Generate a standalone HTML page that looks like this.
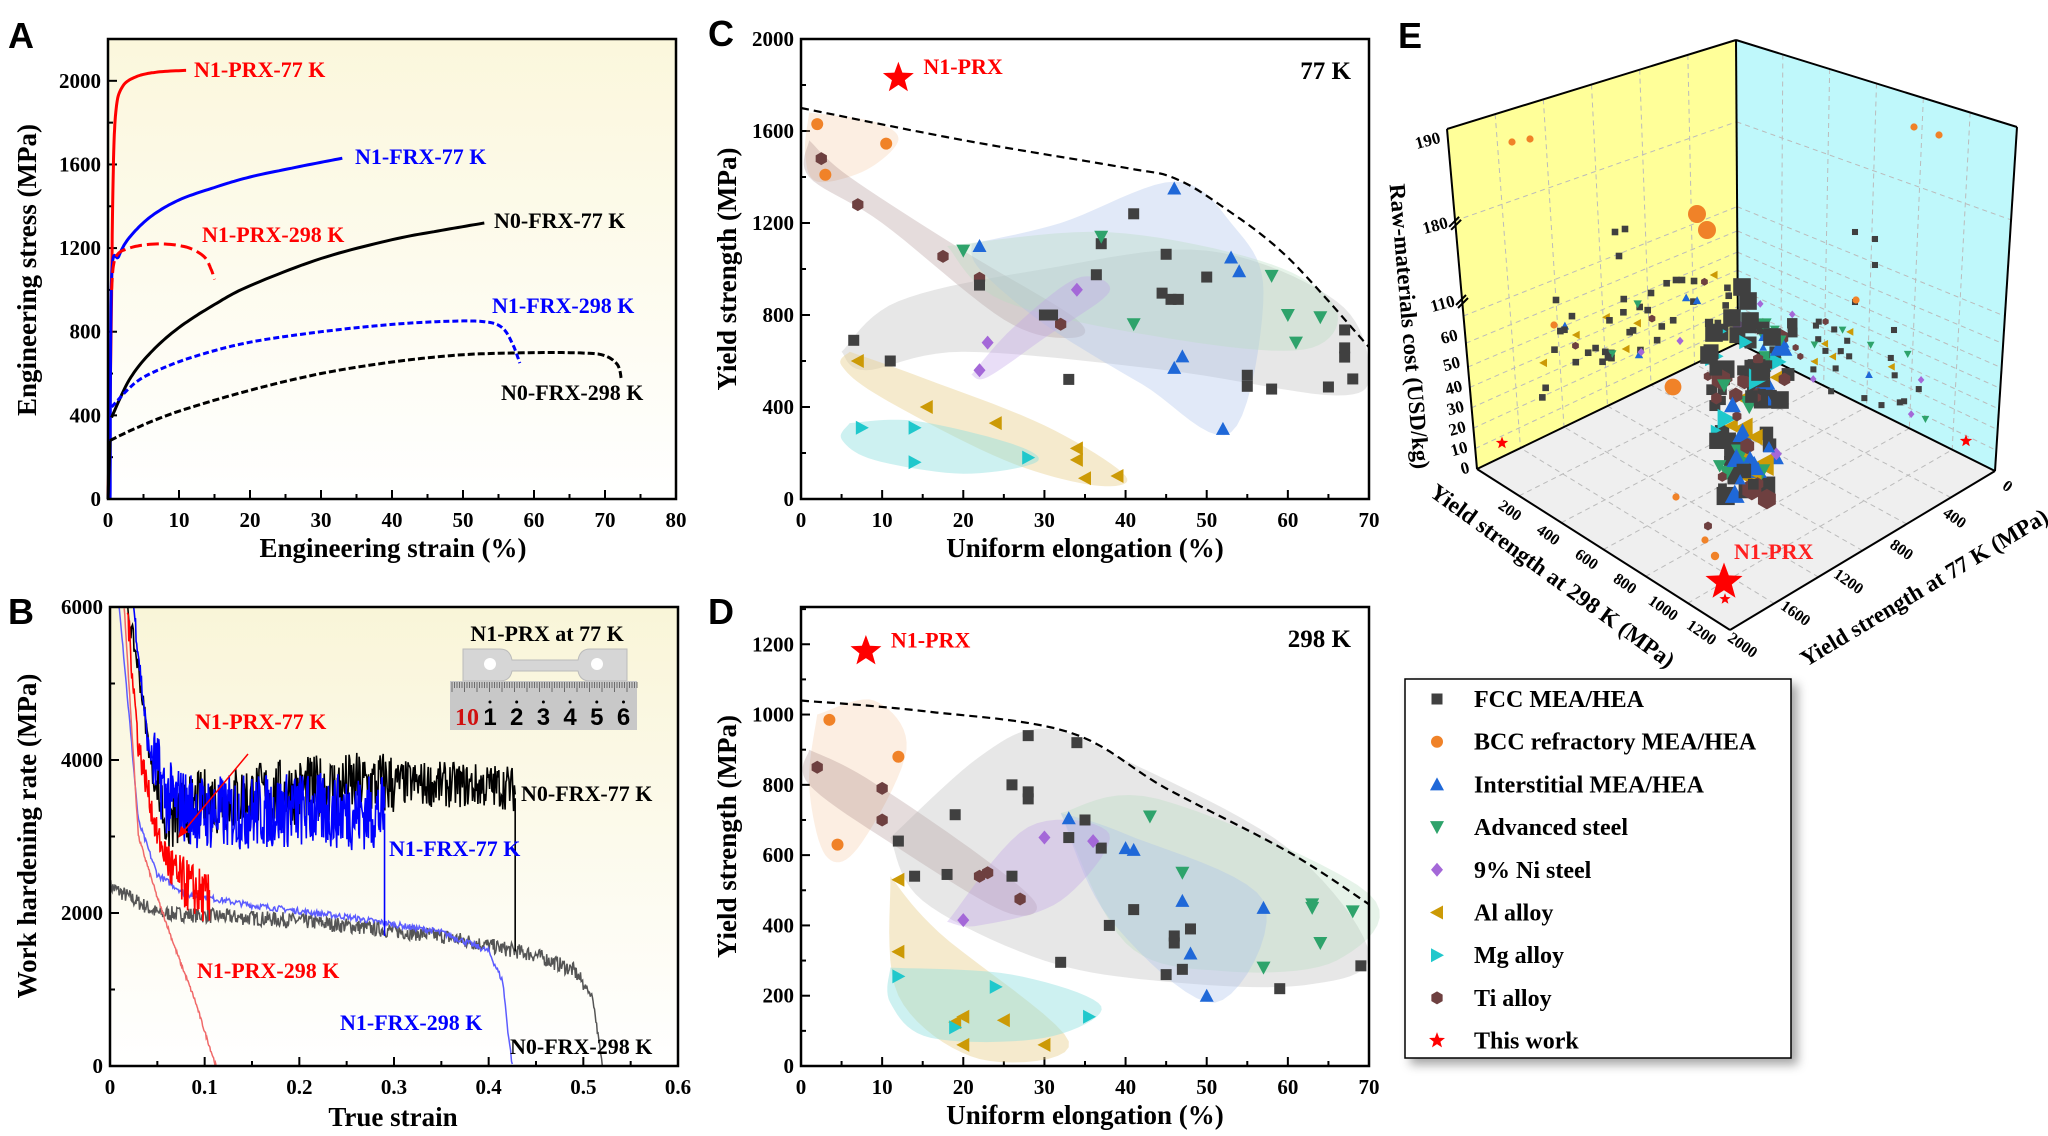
<!DOCTYPE html>
<html><head><meta charset="utf-8"><style>
html,body{margin:0;padding:0;background:#fff}
svg{display:block}
text{font-family:"Liberation Serif",serif;font-weight:bold}
</style></head><body>
<svg id="s" width="2048" height="1136" viewBox="0 0 2048 1136" xmlns="http://www.w3.org/2000/svg">
<defs>
<linearGradient id="gy" x1="0" y1="0" x2="0" y2="1"><stop offset="0" stop-color="#fbf7dc"/><stop offset="1" stop-color="#ffffff"/></linearGradient>
<linearGradient id="gy2" x1="0" y1="0" x2="0" y2="1"><stop offset="0" stop-color="#f9f5d8"/><stop offset="1" stop-color="#ffffff"/></linearGradient>
<filter id="sh" x="-5%" y="-5%" width="115%" height="115%"><feDropShadow dx="6" dy="6" stdDeviation="5" flood-color="#000" flood-opacity="0.35"/></filter>
</defs>
</svg>
<script>
const S=document.getElementById('s');const NS='http://www.w3.org/2000/svg';
function E(t,a,p){const e=document.createElementNS(NS,t);for(const k in a)e.setAttribute(k,a[k]);(p||S).appendChild(e);return e;}
function T(x,y,s,o){const e=E('text',Object.assign({x:x,y:y},o||{}));e.textContent=s;return e;}
function path(pts,X,Y){return pts.map((p,i)=>(i?'L':'M')+X(p[0]).toFixed(1)+' '+Y(p[1]).toFixed(1)).join(' ');}
function smooth(pts,n){const out=[];for(let i=0;i<pts.length-1;i++){const p0=pts[Math.max(0,i-1)],p1=pts[i],p2=pts[i+1],p3=pts[Math.min(pts.length-1,i+2)];for(let k=0;k<n;k++){const t=k/n,t2=t*t,t3=t2*t;const f=(a,b,c,d)=>0.5*((2*b)+(-a+c)*t+(2*a-5*b+4*c-d)*t2+(-a+3*b-3*c+d)*t3);out.push([f(p0[0],p1[0],p2[0],p3[0]),f(p0[1],p1[1],p2[1],p3[1])]);}}out.push(pts[pts.length-1]);return out;}
let seed=7;function rnd(){seed=(seed*16807)%2147483647;return seed/2147483647;}

function axes(L,Tp,R,B,X,Y,xt,yt,xminor,yminor,bg){
  if(bg)E('rect',{x:L,y:Tp,width:R-L,height:B-Tp,fill:bg});
  xt.forEach(v=>{const x=X(v);E('line',{x1:x,y1:B,x2:x,y2:B-9,stroke:'#000','stroke-width':2});T(x,B+28,String(v),{'font-size':21,'text-anchor':'middle'});});
  xminor.forEach(v=>{const x=X(v);E('line',{x1:x,y1:B,x2:x,y2:B-5,stroke:'#000','stroke-width':2});});
  yt.forEach(v=>{const y=Y(v);E('line',{x1:L,y1:y,x2:L+9,y2:y,stroke:'#000','stroke-width':2});T(L-7,y+7,String(v),{'font-size':21,'text-anchor':'end'});});
  yminor.forEach(v=>{const y=Y(v);E('line',{x1:L,y1:y,x2:L+5,y2:y,stroke:'#000','stroke-width':2});});
}
function box(L,Tp,R,B){E('rect',{x:L,y:Tp,width:R-L,height:B-Tp,fill:'none',stroke:'#000','stroke-width':2.5});}
function rng(a,b,s){const r=[];for(let v=a;v<=b+1e-9;v+=s)r.push(+v.toFixed(3));return r;}

// ---------- Panel A ----------
{const L=108,R=676,Tp=39,B=499;const X=v=>L+v/80*568,Y=v=>B-v/2200*460;
axes(L,Tp,R,B,X,Y,rng(0,80,10),rng(0,2000,400),rng(5,75,10),rng(200,2200,400),'url(#gy)');
const cur=(pts,c,d,w)=>E('path',{d:path(smooth(pts,12),X,Y),fill:'none',stroke:c,'stroke-width':w||3,'stroke-dasharray':d||'none'});
cur([[0,0],[0.4,700],[0.7,1500],[1.1,1850],[2,1970],[4,2020],[7,2042],[11,2050]],'#ff0000');
cur([[0.3,0],[0.5,1050],[1.5,1160],[3,1250],[6,1350],[10,1430],[15,1490],[20,1540],[27,1590],[33,1630]],'#0000ff');
cur([[0.5,1000],[1,1150],[3,1200],[7,1220],[11,1205],[13.5,1160],[14.5,1100],[15,1050]],'#ff0000','12,5');
cur([[0.5,390],[3,570],[6,700],[10,820],[15,930],[20,1020],[30,1150],[40,1240],[47,1285],[53,1320]],'#000');
cur([[0.5,440],[4,560],[8,630],[13,690],[20,750],[30,800],[40,835],[48,850],[53,848],[55.5,820],[57,740],[58,650]],'#0000ff','6,3');
cur([[0.3,280],[4,340],[10,420],[20,520],[30,600],[40,655],[50,690],[60,700],[67,698],[70,685],[71.8,640],[72.3,570]],'#000','7,3');
cur([[0,0],[0.3,280]],'#000');
box(L,Tp,R,B);
T(194,77,'N1-PRX-77 K',{'font-size':22,fill:'#ff0000'});
T(355,164,'N1-FRX-77 K',{'font-size':22,fill:'#0000ff'});
T(202,242,'N1-PRX-298 K',{'font-size':22,fill:'#ff0000'});
T(494,228,'N0-FRX-77 K',{'font-size':22,fill:'#000'});
T(492,313,'N1-FRX-298 K',{'font-size':22,fill:'#0000ff'});
T(501,400,'N0-FRX-298 K',{'font-size':22,fill:'#000'});
T(393,557,'Engineering strain (%)',{'font-size':27,'text-anchor':'middle'});
T(0,0,'Engineering stress (MPa)',{'font-size':27,'text-anchor':'middle',transform:'translate(36,270) rotate(-90)'});
}
// ---------- Panel B ----------
{const L=110,R=678,Tp=607,B=1066;const X=v=>L+v/0.6*568,Y=v=>B-Math.min(6000,v)/6000*459;
axes(L,Tp,R,B,X,Y,rng(0,0.6,0.1),[0,2000,4000,6000],rng(0.05,0.55,0.1),[1000,3000,5000],'url(#gy2)');
function noisy(base,x0,x1,amp,n,c,w){const pts=[];for(let i=0;i<=n;i++){const x=x0+(x1-x0)*i/n;let y=base(x)+(rnd()*2-1)*amp(x);pts.push([x,Math.max(0,y)]);}E('path',{d:path(pts,X,Y),fill:'none',stroke:c,'stroke-width':w||1.5});return pts;}
const interp=(P)=>x=>{for(let i=0;i<P.length-1;i++)if(x<=P[i+1][0]){const t=(x-P[i][0])/(P[i+1][0]-P[i][0]);return P[i][1]+t*(P[i+1][1]-P[i][1]);}return P[P.length-1][1];};
noisy(interp([[0,2350],[0.05,2000],[0.2,1900],[0.35,1700],[0.45,1450],[0.49,1250],[0.51,900],[0.52,0]]),0,0.52,x=>x<0.5?100:40,700,'#555555');
noisy(interp([[0.01,6000],[0.03,3200],[0.05,2500],[0.08,2250],[0.15,2100],[0.25,1950],[0.35,1750],[0.4,1500],[0.415,1100],[0.42,500],[0.425,0]]),0.008,0.425,x=>40,450,'#5c5cff');
noisy(interp([[0.015,6000],[0.03,3000],[0.05,2200],[0.07,1500],[0.09,850],[0.1,450],[0.108,150],[0.112,0]]),0.015,0.112,x=>25,150,'#f06a6a');
noisy(interp([[0.018,6000],[0.03,5200],[0.045,3800],[0.06,3200],[0.1,3450],[0.2,3600],[0.3,3700],[0.42,3650],[0.428,3600]]),0.018,0.428,x=>x<0.05?150:x<0.3?450:300,500,'#000',1.6);
E('line',{x1:X(0.428),y1:Y(3500),x2:X(0.428),y2:Y(1500),stroke:'#000','stroke-width':1.6});
noisy(interp([[0.025,6000],[0.04,4200],[0.06,3500],[0.1,3300],[0.2,3350],[0.29,3300]]),0.025,0.29,x=>x<0.045?150:500,420,'#0000ff',1.6);
E('line',{x1:X(0.29),y1:Y(3300),x2:X(0.29),y2:Y(1700),stroke:'#0000ff','stroke-width':1.6});
noisy(interp([[0.018,6000],[0.03,4200],[0.05,3000],[0.07,2450],[0.09,2300],[0.105,2150]]),0.018,0.105,x=>x<0.06?200:350,140,'#ff0000',1.6);
E('line',{x1:X(0.105),y1:Y(2300),x2:X(0.105),y2:Y(1900),stroke:'#ff0000','stroke-width':1.6});
// inset
T(547,641,'N1-PRX at 77 K',{'font-size':22,'text-anchor':'middle'});
E('path',{d:'M463 649 L500 649 Q510 649 512 660 L578 660 Q580 649 590 649 L627 649 L627 681 L590 681 Q580 681 578 671 L512 671 Q510 681 500 681 L463 681 Z',fill:'#d6d6d6',stroke:'#bbb'});
E('circle',{cx:490,cy:664,r:6,fill:'#fff'});E('circle',{cx:597,cy:664,r:6,fill:'#fff'});
E('rect',{x:450,y:681,width:187,height:49,fill:'#c8c8c8'});
for(let i=0;i<=74;i++){const x=452+i*2.5;E('line',{x1:x,y1:682,x2:x,y2:i%5?688:692,stroke:'#555','stroke-width':0.8});}
T(467,725,'10',{'font-size':24,fill:'#d01010','text-anchor':'middle'});
[1,2,3,4,5,6].forEach((n,i)=>{T(490+i*26.7,725,String(n),{'font-size':24,'text-anchor':'middle','style':'font-family:Liberation Sans'});E('circle',{cx:490+i*26.7,cy:702,r:1.5,fill:'#000'});});
box(L,Tp,R,B);
T(195,729,'N1-PRX-77 K',{'font-size':22,fill:'#ff0000'});
E('line',{x1:248,y1:754,x2:183,y2:832,stroke:'#ff0000','stroke-width':1.5});
E('path',{d:'M178 838 L181 826 L188 832 Z',fill:'#ff0000'});
T(521,801,'N0-FRX-77 K',{'font-size':22});
T(389,856,'N1-FRX-77 K',{'font-size':22,fill:'#0000ff'});
T(197,978,'N1-PRX-298 K',{'font-size':22,fill:'#ff0000'});
T(340,1030,'N1-FRX-298 K',{'font-size':22,fill:'#0000ff'});
T(510,1054,'N0-FRX-298 K',{'font-size':22});
T(393,1126,'True strain',{'font-size':27,'text-anchor':'middle'});
T(0,0,'Work hardening rate (MPa)',{'font-size':27,'text-anchor':'middle',transform:'translate(36,836) rotate(-90)'});
}
// markers
const COL={sq:'#404040',ci:'#f08228',up:'#1f68d8',dn:'#2ea36b',di:'#a468d8',lt:'#cc9a06',rt:'#20c8cc',hx:'#6e4040'};
function mk(t,x,y,s){s=s||1;const c=COL[t];
 if(t=='sq')E('rect',{x:x-5.5*s,y:y-5.5*s,width:11*s,height:11*s,fill:c});
 else if(t=='ci')E('circle',{cx:x,cy:y,r:6*s,fill:c});
 else if(t=='up')E('path',{d:`M${x} ${y-7*s} L${x+7*s} ${y+6*s} L${x-7*s} ${y+6*s}Z`,fill:c});
 else if(t=='dn')E('path',{d:`M${x} ${y+7*s} L${x+7*s} ${y-6*s} L${x-7*s} ${y-6*s}Z`,fill:c});
 else if(t=='di')E('path',{d:`M${x} ${y-7*s} L${x+6*s} ${y} L${x} ${y+7*s} L${x-6*s} ${y}Z`,fill:c});
 else if(t=='lt')E('path',{d:`M${x-7*s} ${y} L${x+6*s} ${y-7*s} L${x+6*s} ${y+7*s}Z`,fill:c});
 else if(t=='rt')E('path',{d:`M${x+7*s} ${y} L${x-6*s} ${y-7*s} L${x-6*s} ${y+7*s}Z`,fill:c});
 else if(t=='hx'){let d='';for(let i=0;i<6;i++){const a=Math.PI/6+i*Math.PI/3;d+=(i?'L':'M')+(x+6.5*s*Math.cos(a))+' '+(y+6.5*s*Math.sin(a));}E('path',{d:d+'Z',fill:c});}
 else if(t=='st'){let d='';for(let i=0;i<10;i++){const a=-Math.PI/2+i*Math.PI/5,r=i%2?6.5*s*0.42:6.5*s;d+=(i?'L':'M')+(x+r*Math.cos(a)).toFixed(1)+' '+(y+r*Math.sin(a)).toFixed(1);}E('path',{d:d+'Z',fill:'#ff0000'});}
}
function region(pts,c,X,Y,op){E('path',{d:path(smooth(pts.concat([pts[0]]),10),X,Y)+'Z',fill:c,'fill-opacity':op||0.3});}
function panelScatter(L,Tp,R,B,ymax,yt,yminor,regs,pts,dash,star,lab,tempLbl){
 const X=v=>L+v/70*568,Y=v=>B-v/ymax*(B-Tp);
 axes(L,Tp,R,B,X,Y,rng(0,70,10),yt,rng(5,65,10),yminor,null);
 regs.forEach(r=>region(r[1],r[0],X,Y,r[2]));
 E('path',{d:path(smooth(dash,10),X,Y),fill:'none',stroke:'#000','stroke-width':2.2,'stroke-dasharray':'8,5'});
 pts.forEach(p=>mk(p[0],X(p[1]),Y(p[2])));
 mk('st',X(star[0]),Y(star[1]),2.5);
 T(X(star[0])+25,Y(star[1])-4,'N1-PRX',{'font-size':22,fill:'#ff0000'});
 T(R-18,Tp+40,tempLbl,{'font-size':25,'text-anchor':'end'});
 box(L,Tp,R,B);
 T((L+R)/2,B+58,'Uniform elongation (%)',{'font-size':27,'text-anchor':'middle'});
 T(0,0,'Yield strength (MPa)',{'font-size':27,'text-anchor':'middle',transform:`translate(${L-65},${(Tp+B)/2}) rotate(-90)`});
}
// ---------- Panel C ----------
panelScatter(801,39,1369,499,2000,rng(0,2000,400),rng(200,1800,400),[
 ['#f6c8a0',[[1,1680],[9,1640],[12,1560],[8,1430],[2,1380],[0.5,1500]]],
 ['#8a6060',[[1,1560],[6,1400],[20,1080],[34,780],[33,700],[25,780],[10,1200],[1,1400]],0.22],
 ['#b0b0b0',[[5,640],[12,860],[30,1000],[50,1080],[66,860],[70,560],[66,450],[45,560],[20,640],[8,560]],0.3],
 ['#a8c0ec',[[21,1110],[32,1200],[46,1380],[53,1200],[57,900],[53,290],[42,500],[30,760],[22,1000]],0.35],
 ['#b8dcc0',[[18,1100],[38,1160],[58,1020],[66,820],[62,650],[45,700],[25,860]],0.35],
 ['#c0a0e8',[[21,540],[26,740],[34,960],[38,900],[30,700],[23,530]],0.35],
 ['#e8d090',[[6,640],[14,540],[30,320],[40,100],[36,60],[25,170],[10,440],[5,580]],0.45],
 ['#90e0e0',[[6,330],[14,340],[26,240],[29,160],[20,110],[9,170],[5,260]],0.45]
],[
 ['ci',2,1630],['ci',10.5,1545],['ci',3,1410],
 ['hx',2.5,1480],['hx',7,1280],['hx',17.5,1055],['hx',22,960],['hx',32,760],
 ['sq',6.5,690],['sq',11,600],['sq',22,930],['sq',30,800],['sq',31,800],['sq',33,520],['sq',36.4,975],['sq',41,1240],['sq',37,1110],['sq',45,1064],['sq',44.5,895],['sq',45.6,868],['sq',46.5,868],['sq',50,965],['sq',55,538],['sq',55,490],['sq',58,478],['sq',65,487],['sq',67,735],['sq',67,657],['sq',67,617],['sq',68,522],
 ['up',22,1100],['up',46,1350],['up',53,1050],['up',54,990],['up',46,570],['up',47,620],['up',52,305],
 ['dn',20,1080],['dn',37,1140],['dn',41,760],['dn',58,970],['dn',60,800],['dn',61,680],['dn',64,790],
 ['di',23,680],['di',22,560],['di',34,910],
 ['lt',7,600],['lt',15.5,400],['lt',24,330],['lt',34,220],['lt',34,170],['lt',35,90],['lt',39,100],
 ['rt',7.5,310],['rt',14,310],['rt',14,160],['rt',28,180]
],[[0,1700],[20,1560],[40,1440],[46,1395],[52,1270],[60,1050],[70,660]],[12,1830],'N1-PRX','77 K');
// ---------- Panel D ----------
panelScatter(801,607,1369,1066,1306,rng(0,1200,200),rng(100,1300,200),[
 ['#f6c8a0',[[2,1000],[9,1040],[13,900],[7,620],[3,600],[1,800]]],
 ['#8a6060',[[1,900],[8,820],[22,600],[29,460],[25,440],[12,620],[1,800]],0.22],
 ['#b0b0b0',[[11,650],[22,880],[30,960],[40,870],[60,620],[70,320],[62,230],[45,240],[30,300],[15,470]],0.3],
 ['#b8dcc0',[[32,720],[44,760],[70,490],[66,300],[52,270],[40,350]],0.35],
 ['#a8c0ec',[[32,720],[40,660],[57,470],[51,180],[38,420]],0.35],
 ['#c0a0e8',[[18,410],[28,680],[38,660],[32,470],[22,400]],0.35],
 ['#e8d090',[[11,540],[17,380],[33,70],[22,20],[12,200]],0.45],
 ['#90e0e0',[[11,280],[26,260],[37,170],[30,80],[16,80],[11,180]],0.45]
],[
 ['ci',3.5,985],['ci',4.5,630],['ci',12,880],
 ['hx',2,850],['hx',10,790],['hx',10,700],['hx',22,540],['hx',27,475],['hx',23,550],
 ['sq',12,640],['sq',14,540],['sq',18,545],['sq',19,715],['sq',26,800],['sq',28,780],['sq',28,760],['sq',28,940],['sq',34,920],['sq',35,700],['sq',33,650],['sq',37,620],['sq',38,400],['sq',41,445],['sq',32,295],['sq',45,260],['sq',46,370],['sq',46,350],['sq',47,275],['sq',48,390],['sq',59,220],['sq',69,285],['sq',26,540],
 ['up',33,705],['up',40,620],['up',41,615],['up',47,470],['up',48,320],['up',57,450],['up',50,200],
 ['dn',43,710],['dn',47,550],['dn',63,460],['dn',63,450],['dn',64,350],['dn',68,440],['dn',57,280],
 ['di',20,415],['di',30,650],['di',36,640],
 ['lt',12,530],['lt',12,325],['lt',20,140],['lt',20,60],['lt',25,130],['lt',30,60],['lt',19,125],
 ['rt',12,255],['rt',24,225],['rt',19,110],['rt',35.5,140]
],[[0,1040],[15,1010],[33,950],[45,790],[60,610],[70,460]],[8,1180],'N1-PRX','298 K');

// ---------- Panel E ----------
{
const TL=[1447,129],BL=[1477,469],TB=[1736,40],BB=[1738,343],TR=[2017,127],BR=[1995,471],FF=[1730,630];
const P=a=>a.map(p=>p.join(',')).join(' ');
E('polygon',{points:P([TL,TB,BB,BL]),fill:'#ffff99'});
E('polygon',{points:P([TB,TR,BR,BB]),fill:'#bff8fb'});
E('polygon',{points:P([BL,BB,BR,FF]),fill:'#efefef'});
const lerp=(a,b,t)=>[a[0]+(b[0]-a[0])*t,a[1]+(b[1]-a[1])*t];
const gl=(a,b)=>E('line',{x1:a[0],y1:a[1],x2:b[0],y2:b[1],stroke:'#bbb','stroke-width':1,'stroke-dasharray':'5,4'});
for(let i=1;i<6;i++){const t=i/6;gl(lerp(TL,TB,t),lerp(BL,BB,t));gl(lerp(TB,TR,t),lerp(BB,BR,t));gl(lerp(BL,FF,t),lerp(BB,BR,t));gl(lerp(FF,BR,t),lerp(BL,BB,t));}
const hs=[0.55,0.63,0.7,0.76,0.82,0.88,0.94];
hs.forEach(t=>{gl(lerp(TL,BL,t),lerp(TB,BB,t));gl(lerp(TB,BB,t),lerp(TR,BR,t));});
gl(lerp(TL,BL,0.27),lerp(TB,BB,0.27));gl(lerp(TB,BB,0.27),lerp(TR,BR,0.27));
[[TL,TB],[TB,TR],[TL,BL],[TR,BR],[TB,BB],[BL,BB],[BB,BR],[BL,FF],[FF,BR]].forEach(s=>E('line',{x1:s[0][0],y1:s[0][1],x2:s[1][0],y2:s[1][1],stroke:'#000','stroke-width':2}));
[['190',0.02],['180',0.27],['110',0.5],['60',0.6],['50',0.68],['40',0.75],['30',0.81],['20',0.87],['10',0.93],['0',0.99]].forEach(l=>{const p=lerp(TL,BL,l[1]);T(p[0]-8,p[1]+7,l[0],{'font-size':17,'text-anchor':'end',transform:`rotate(-15 ${p[0]-8} ${p[1]})`});});
[0.27,0.5].forEach(t=>{const p=lerp(TL,BL,t);E('path',{d:`M${p[0]-6} ${p[1]+6} L${p[0]+4} ${p[1]-4} M${p[0]-4} ${p[1]+9} L${p[0]+6} ${p[1]-1}`,stroke:'#000','stroke-width':2});});
['200','400','600','800','1000','1200'].forEach((s,i)=>{const p=lerp(BL,FF,(i+1)/6.6);T(p[0]-6,p[1]+22,s,{'font-size':16,'text-anchor':'middle',transform:`rotate(35 ${p[0]-6} ${p[1]+18})`});});
['0','400','800','1200','1600','2000'].forEach((s,i)=>{const p=lerp(BR,FF,i/5);T(p[0]+12,p[1]+20,s,{'font-size':16,'text-anchor':'middle',transform:`rotate(35 ${p[0]+12} ${p[1]+16})`});});
T(0,0,'Raw-materials cost (USD/kg)',{'font-size':23,'text-anchor':'middle',transform:'translate(1402,327) rotate(85)'});
T(0,0,'Yield strength at 298 K (MPa)',{'font-size':23,'text-anchor':'middle',transform:'translate(1548,582) rotate(36)'});
T(0,0,'Yield strength at 77 K (MPa)',{'font-size':23,'text-anchor':'middle',transform:'translate(1928,594) rotate(-31)'});
seed=42;
const types=['sq','sq','sq','sq','sq','up','dn','hx','di','lt'];
// left wall
for(let i=0;i<50;i++){const t=types[Math.floor(rnd()*types.length)];const x=1540+rnd()*190;const y=400-(x-1540)*0.38-rnd()*75;mk(t,x,y,0.6);}
[[1615,232],[1625,229],[1619,256],[1651,293],[1676,280],[1682,280],[1556,300]].forEach(p=>mk('sq',p[0],p[1],0.6));
// right wall
for(let i=0;i<42;i++){const t=types[Math.floor(rnd()*types.length)];const x=1756+rnd()*170;const y=300+(x-1756)*0.3+rnd()*70;mk(t,x,y,0.55);}
[[1855,232],[1875,239],[1875,265],[1855,302],[1894,330]].forEach(p=>mk('sq',p[0],p[1],0.55));
mk('ci',1512,142,0.6);mk('ci',1530,139,0.6);mk('ci',1914,127,0.6);mk('ci',1939,135,0.6);
mk('ci',1697,214,1.5);mk('ci',1707,230,1.5);mk('ci',1554,325,0.6);mk('ci',1856,300,0.6);mk('ci',1673,387,1.4);
mk('st',1502,443,1);mk('st',1966,441,1);
// central column
const ctypes=['sq','sq','sq','sq','sq','sq','up','up','dn','dn','hx','hx','di','lt','rt'];
for(let i=0;i<120;i++){const t=ctypes[Math.floor(rnd()*ctypes.length)];const yy=rnd();const y=320+yy*180;const w=95-yy*45;const x=1700+(95-w)/2+rnd()*w;mk(t,x,y,0.7+rnd()*1.0);}
[[1742,287],[1748,301],[1732,318],[1714,333],[1709,355],[1750,321],[1772,337],[1760,372],[1780,400]].forEach(p=>mk('sq',p[0],p[1],1.6));
mk('ci',1676,497,0.6);mk('hx',1708,526,0.7);mk('ci',1705,540,0.6);mk('ci',1715,556,0.7);
mk('st',1724,582,3);mk('st',1725,599,0.9);
T(1734,559,'N1-PRX',{'font-size':22,fill:'#ff2020'});
}
// panel letters
[['A',8,48],['B',8,624],['C',708,46],['D',708,624],['E',1398,48]].forEach(l=>T(l[1],l[2],l[0],{'font-size':36,'style':'font-family:Liberation Sans;font-weight:bold'}));
// legend
{E('rect',{x:1405,y:679,width:386,height:379,fill:'#fff',stroke:'#000','stroke-width':1.5,filter:'url(#sh)'});
[['sq','FCC MEA/HEA'],['ci','BCC refractory MEA/HEA'],['up','Interstitial MEA/HEA'],['dn','Advanced steel'],['di','9% Ni steel'],['lt','Al alloy'],['rt','Mg alloy'],['hx','Ti alloy'],['st','This work']].forEach((it,i)=>{const y=699+i*42.7;mk(it[0],1437,y,it[0]=='st'?1.3:1);T(1474,y+8,it[1],{'font-size':24});});}
</script>
</body></html>
